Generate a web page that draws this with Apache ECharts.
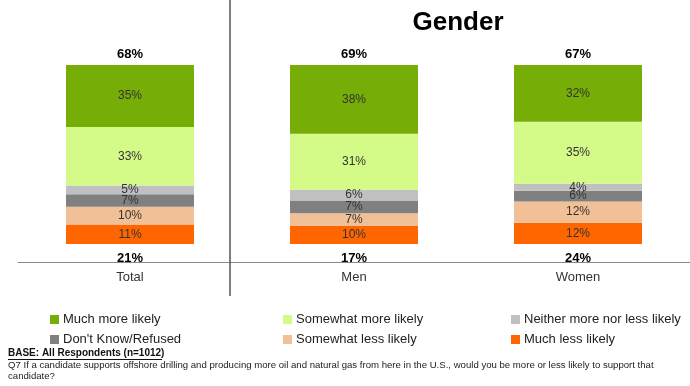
<!DOCTYPE html>
<html>
<head>
<meta charset="utf-8">
<script src="https://cdn.jsdelivr.net/npm/echarts@6/dist/echarts.min.js"></script>
<style>html,body{margin:0;padding:0;background:#fff}#c{width:690px;height:386px}</style>
</head>
<body>
<div id="c"></div>
<script>
// ---- data ----
const categories = ['Total', 'Men', 'Women'];
const muchMore = [35, 38, 32];
const somewhatMore = [33, 31, 35];
const neither = [5, 6, 4];
const dontKnow = [7, 7, 6];
const somewhatLess = [10, 7, 12];
const muchLess = [11, 10, 12];
const topTotals = [68, 69, 67];
const bottomTotals = [21, 17, 24];
const legendNames = ['Much more likely', 'Somewhat more likely', 'Neither more nor less likely',
  "Don't Know/Refused", 'Somewhat less likely', 'Much less likely'];

const FONT = 'Liberation Sans, Arial, sans-serif';
// stacking order from bottom to top
const stackDefs = [
  { name: 'Much less likely', vals: muchLess, color: '#FF6600' },
  { name: 'Somewhat less likely', vals: somewhatLess, color: '#F2C096' },
  { name: "Don't Know/Refused", vals: dontKnow, color: '#808080' },
  { name: 'Neither more nor less likely', vals: neither, color: '#C0C0C0' },
  { name: 'Somewhat more likely', vals: somewhatMore, color: '#D4FA88' },
  { name: 'Much more likely', vals: muchMore, color: '#76AD06' }
];
const sums = categories.map((c, i) => stackDefs.reduce((s, d) => s + d.vals[i], 0));

function totalBar(totals, pos, dist) {
  return {
    type: 'bar', stack: 'all', barWidth: 128, silent: true,
    itemStyle: { color: 'rgba(0,0,0,0)' },
    data: totals.map(v => ({ value: 0, raw: v })),
    label: { show: true, position: pos, distance: dist, fontFamily: FONT, fontSize: 13, fontWeight: 'bold', color: '#000', formatter: p => p.data.raw + '%' }
  };
}

const series = [totalBar(bottomTotals, 'bottom', 7.5)];
stackDefs.forEach(d => series.push({
  name: d.name,
  type: 'bar',
  stack: 'all',
  barWidth: 128,
  itemStyle: { color: d.color },
  data: d.vals.map((v, i) => ({ value: v / sums[i] * 100, raw: v })),
  label: {
    show: true,
    position: 'inside',
    fontFamily: FONT,
    fontSize: 12,
    color: '#333',
    formatter: p => p.data.raw + '%'
  },
  emphasis: { disabled: true }
}));
series.push(totalBar(topTotals, 'top', 4));

function mkLegend(left, names) {
  return {
    orient: 'vertical', left: left, top: 313, padding: 0,
    itemWidth: 9, itemHeight: 9, itemGap: 7, icon: 'rect',
    selectedMode: false,
    textStyle: { fontFamily: FONT, fontSize: 13, color: '#222', padding: [0, 0, 0, -1] },
    data: names
  };
}

const chart = echarts.init(document.getElementById('c'), null, { renderer: 'canvas' });
chart.setOption({
  animation: false,
  title: {
    text: 'Gender', left: 458, top: 10, textAlign: 'center', padding: 0,
    textStyle: { fontFamily: FONT, fontSize: 26, fontWeight: 'bold', color: '#000' }
  },
  legend: [
    mkLegend(50, [legendNames[0], legendNames[3]]),
    mkLegend(283, [legendNames[1], legendNames[4]]),
    mkLegend(511, [legendNames[2], legendNames[5]])
  ],
  grid: { left: 18, right: 0, top: 65, bottom: 123.3 },
  xAxis: {
    type: 'category', data: categories,
    axisLine: { onZero: false, lineStyle: { color: '#888', width: 1 } },
    axisTick: { show: false },
    axisLabel: { margin: 8, fontFamily: FONT, fontSize: 13, color: '#333' }
  },
  yAxis: { type: 'value', min: -10.45, max: 100, show: false },
  series: series,
  graphic: [
    { type: 'line', shape: { x1: 230, y1: 0, x2: 230, y2: 296 }, style: { stroke: '#555', lineWidth: 1.5 }, z: 10 },
    { type: 'text', left: 8, top: 348, style: { text: 'BASE: All Respondents (n=1012)', font: 'bold 10px ' + FONT, fill: '#111' } },
    { type: 'line', shape: { x1: 8, y1: 359.5, x2: 162, y2: 359.5 }, style: { stroke: '#111', lineWidth: 1 } },
    { type: 'text', left: 8, top: 360, style: { text: 'Q7 If a candidate supports offshore drilling and producing more oil and natural gas from here in the U.S., would you be more or less likely to support that', font: '9.6px ' + FONT, fill: '#222' } },
    { type: 'text', left: 8, top: 371, style: { text: 'candidate?', font: '9.6px ' + FONT, fill: '#222' } }
  ]
});
</script>
</body>
</html>
